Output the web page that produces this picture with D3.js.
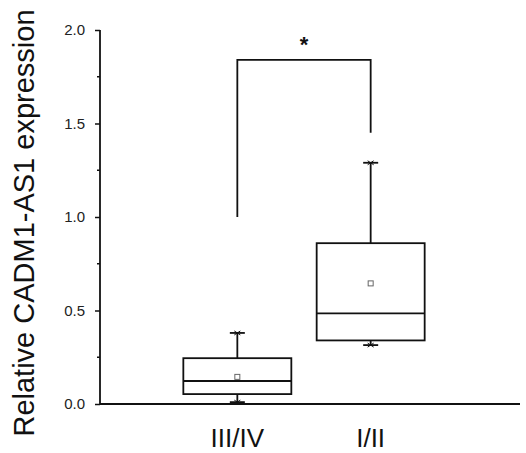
<!DOCTYPE html>
<html>
<head>
<meta charset="utf-8">
<script src="https://cdn.jsdelivr.net/npm/d3@7"></script>
<style>
  body { margin: 0; background: #fff; }
  text { font-family: "Liberation Sans", Arial, sans-serif; }
</style>
</head>
<body>
<div id="my_dataviz"></div>
<script>
// data
var groups = ["III/IV", "I/II"];
var groupPos = [1, 2];
var q1 = [0.053, 0.34];
var median = [0.123, 0.485];
var q3 = [0.245, 0.86];
var whiskLow = [0.01, 0.315];
var whiskHigh = [0.38, 1.29];
var means = [0.145, 0.645];
var yTicks = [0, 0.5, 1.0, 1.5, 2.0];
var yMinorTicks = [0.25, 0.75, 1.25, 1.75];
// significance bracket: [left end, right end, top]
var bracket = [1.0, 1.45, 1.84];

var W = 526, H = 453;

var svg = d3.select("#my_dataviz")
  .append("svg")
    .attr("width", W)
    .attr("height", H);

var y = d3.scaleLinear()
  .domain([0, 2])
  .range([404, 30]);

var x = d3.scaleLinear()
  .domain([0, 3.12])
  .range([104, 520]);

var boxW = x(1.81) - x(1);
var capW = 15;

// Y axis
var yAxis = svg.append("g")
  .attr("transform", "translate(100,0)")
  .call(d3.axisLeft(y).tickValues(yTicks).tickFormat(d3.format(".1f"))
    .tickSize(5).tickPadding(10));
yAxis.select(".domain").attr("stroke", "#111").attr("stroke-width", 1.8)
  .attr("d", "M0," + y(2) + "V" + y(0));
yAxis.selectAll(".tick line").attr("stroke", "#111").attr("stroke-width", 1.5);
yAxis.selectAll(".tick text")
  .style("font-size", "15px")
  .attr("fill", "#222");

// minor ticks
svg.append("g")
  .selectAll("line")
  .data(yMinorTicks)
  .enter().append("line")
    .attr("x1", 97)
    .attr("x2", 100)
    .attr("y1", function(d) { return y(d); })
    .attr("y2", function(d) { return y(d); })
    .attr("stroke", "#111")
    .attr("stroke-width", 1.5);

// X axis line
svg.append("line")
  .attr("x1", 100)
  .attr("x2", x.range()[1])
  .attr("y1", y(0))
  .attr("y2", y(0))
  .attr("stroke", "#111")
  .attr("stroke-width", 1.8);

// x labels
svg.append("g")
  .selectAll("text")
  .data(groups)
  .enter().append("text")
    .attr("x", function(d, i) { return x(groupPos[i]); })
    .attr("y", 447)
    .attr("text-anchor", "middle")
    .style("font-size", "26px")
    .attr("fill", "#111")
    .text(function(d) { return d; });

// y label
svg.append("text")
  .attr("transform", "translate(34," + 223 + ") rotate(-90)")
  .attr("text-anchor", "middle")
  .style("font-size", "29px")
  .attr("fill", "#111")
  .text("Relative CADM1-AS1 expression");

// boxes
var boxes = svg.append("g")
  .selectAll("g")
  .data(groups)
  .enter().append("g");

// whiskers
boxes.append("line")
  .attr("x1", function(d, i) { return x(groupPos[i]); })
  .attr("x2", function(d, i) { return x(groupPos[i]); })
  .attr("y1", function(d, i) { return y(whiskHigh[i]); })
  .attr("y2", function(d, i) { return y(q3[i]); })
  .attr("stroke", "#111").attr("stroke-width", 1.8);
boxes.append("line")
  .attr("x1", function(d, i) { return x(groupPos[i]); })
  .attr("x2", function(d, i) { return x(groupPos[i]); })
  .attr("y1", function(d, i) { return y(whiskLow[i]); })
  .attr("y2", function(d, i) { return y(q1[i]); })
  .attr("stroke", "#111").attr("stroke-width", 1.8);

// caps
[whiskHigh, whiskLow].forEach(function(arr) {
  boxes.append("line")
    .attr("x1", function(d, i) { return x(groupPos[i]) - capW / 2; })
    .attr("x2", function(d, i) { return x(groupPos[i]) + capW / 2; })
    .attr("y1", function(d, i) { return y(arr[i]); })
    .attr("y2", function(d, i) { return y(arr[i]); })
    .attr("stroke", "#111").attr("stroke-width", 1.8);
  boxes.append("path")
    .attr("d", function(d, i) {
      var cx = x(groupPos[i]), cy = y(arr[i]);
      return "M" + (cx - 3) + "," + (cy - 2) + "L" + (cx + 3) + "," + (cy + 2) +
        "M" + (cx - 3) + "," + (cy + 2) + "L" + (cx + 3) + "," + (cy - 2);
    })
    .attr("stroke", "#111").attr("stroke-width", 1);
});

// box rect
boxes.append("rect")
  .attr("x", function(d, i) { return x(groupPos[i]) - boxW / 2; })
  .attr("y", function(d, i) { return y(q3[i]); })
  .attr("width", boxW)
  .attr("height", function(d, i) { return y(q1[i]) - y(q3[i]); })
  .attr("fill", "none")
  .attr("stroke", "#111")
  .attr("stroke-width", 1.8);

// median
boxes.append("line")
  .attr("x1", function(d, i) { return x(groupPos[i]) - boxW / 2; })
  .attr("x2", function(d, i) { return x(groupPos[i]) + boxW / 2; })
  .attr("y1", function(d, i) { return y(median[i]); })
  .attr("y2", function(d, i) { return y(median[i]); })
  .attr("stroke", "#111").attr("stroke-width", 1.8);

// mean square
boxes.append("rect")
  .attr("x", function(d, i) { return x(groupPos[i]) - 2.5; })
  .attr("y", function(d, i) { return y(means[i]) - 2.5; })
  .attr("width", 5)
  .attr("height", 5)
  .attr("fill", "none")
  .attr("stroke", "#666")
  .attr("stroke-width", 1);

// significance bracket
svg.append("path")
  .attr("d", "M" + x(groupPos[0]) + "," + y(bracket[0]) +
    "V" + y(bracket[2]) + "H" + x(groupPos[1]) + "V" + y(bracket[1]))
  .attr("fill", "none")
  .attr("stroke", "#111")
  .attr("stroke-width", 1.8);

svg.append("text")
  .attr("x", (x(groupPos[0]) + x(groupPos[1])) / 2)
  .attr("y", 52)
  .attr("text-anchor", "middle")
  .style("font-size", "22px")
  .style("font-weight", "bold")
  .attr("fill", "#111")
  .text("*");
</script>
</body>
</html>
